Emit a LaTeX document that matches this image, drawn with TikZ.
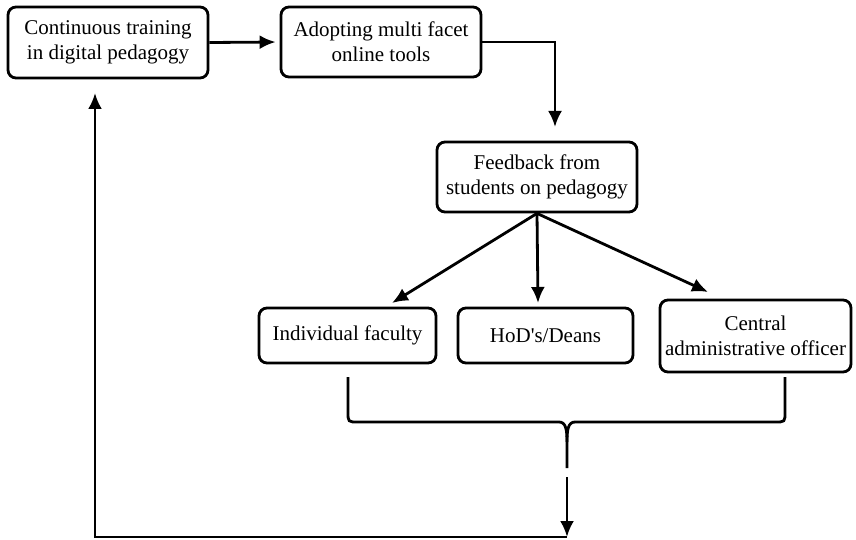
\documentclass[tikz,border=0pt]{standalone}
\usepackage{fontspec}
\setmainfont{Liberation Serif}
\usetikzlibrary{arrows.meta}

\tikzset{
    stage/.style={draw, line width=1.4pt, rounded corners=4pt, align=center,
        font=\fontsize{10.5}{12.6}\selectfont, inner sep=2pt},
    flow/.style={line width=1.4pt, -{Latex[length=8pt, width=7pt]}},
    bracket/.style={line width=1.4pt},
}

\begin{document}
\begin{tikzpicture}[x=0.5pt, y=-0.5pt]
    \useasboundingbox (0, 0) rectangle (856, 540);

    % boxes
    \node[stage, minimum width=100pt, minimum height=35.5pt] (train) at (108, 42.5) {Continuous training\\in digital pedagogy};
    \node[stage, minimum width=100pt, minimum height=35pt] (adopt) at (381, 42) {Adopting multi facet\\online tools};
    \node[stage, minimum width=100pt, minimum height=35pt] (feedback) at (537, 177) {Feedback from\\students on pedagogy};
    \node[stage, minimum width=88.5pt, minimum height=27.5pt] (faculty) at (347.5, 335.5) {Individual faculty};
    \node[stage, minimum width=87.5pt, minimum height=27.5pt] (deans) at (545.5, 335.5) {HoD\textquotesingle s/Deans};
    \node[stage, minimum width=95.5pt, minimum height=36pt] (officer) at (755.5, 336) {Central\\administrative officer};

    % arrow ends
    \coordinate (fbtip) at (555, 127);
    \coordinate (factip) at (392, 303);
    \coordinate (deantip) at (538, 303);
    \coordinate (offtip) at (708, 292);
    \coordinate (cusp) at (567, 468);
    \coordinate (gapend) at (567, 477);
    \coordinate (loopright) at (567, 537);
    \coordinate (loopleft) at (95, 537);
    \coordinate (traintip) at (95, 93);

    \draw[flow, shorten >=2pt] (train.east) -- (adopt.west);
    \draw[flow] (adopt.east) -| (fbtip);

    \draw[flow] (feedback.south) -- (factip);
    \draw[flow] (feedback.south) -- (deantip);
    \draw[flow] (feedback.south) -- (offtip);

    % bracket under the three boxes
    \draw[bracket] (348, 377) -- (348, 412) .. controls (348, 422) .. (358, 422)
        -- (559, 422) .. controls (566, 422) and (567, 430) .. (567, 442) -- (cusp);
    \draw[bracket] (785, 377) -- (785, 412) .. controls (785, 422) .. (775, 422)
        -- (575, 422) .. controls (568, 422) and (567, 430) .. (567, 442);

    \draw[flow] (gapend) -- (loopright);
    \draw[flow] (loopright) -- (loopleft) -- (traintip);
\end{tikzpicture}
\end{document}
